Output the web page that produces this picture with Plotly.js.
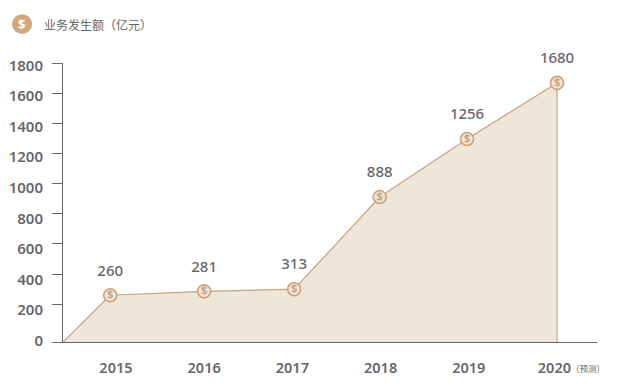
<!DOCTYPE html>
<html><head><meta charset="utf-8">
<script src="https://cdn.plot.ly/plotly-3.0.1.min.js"></script>
<style>html,body{margin:0;padding:0;background:#fff}#c{width:632px;height:388px}</style>
</head><body><div id="c"></div>
<script>
// Point positions (x in years, y on the drawn scale)
const pointX = [2014.935, 2016, 2017.02, 2017.99, 2018.98, 2020];
const pointY = [260, 286, 300, 911, 1296, 1668];
const valueLabels = ['260', '281', '313', '888', '1256', '1680'];
const startX = 2014.4;
const baseY = -50;   // the lowest tick sits below the regular step on the original axis
const yTickMarks = [-50, 200, 400, 600, 800, 1000, 1200, 1400, 1600, 1800];
const yLabelVals = [0, 200, 400, 600, 800, 1000, 1200, 1400, 1600, 1800];
const xTickVals = [2015, 2016, 2017, 2018, 2019, 2019.97];
const xTickText = ['2015', '2016', '2017', '2018', '2019', '2020'];
const unitTitle = '业务发生额（亿元）';
const forecastNote = '（预测）';

const TAN = '#c9a27c', FILL = '#efe6da', TXT = '#66666b', AXIS = '#666666';
const FONT = '"Noto Sans CJK SC","Noto Sans",sans-serif';
const NUM = '"Noto Sans","Open Sans",sans-serif';

const area = {
  x: [startX, ...pointX, pointX[pointX.length - 1]],
  y: [baseY, ...pointY, baseY],
  mode: 'lines', fill: 'toself', fillcolor: FILL,
  line: {color: TAN, width: 1.2}, hoverinfo: 'skip', showlegend: false
};
const coins = {
  x: pointX, y: pointY, mode: 'markers+text',
  marker: {size: 13, color: FILL, line: {color: TAN, width: 1.6}},
  text: pointX.map(() => '$'), textposition: 'middle center',
  textfont: {family: NUM, size: 11, color: TAN, weight: 700},
  hoverinfo: 'skip', showlegend: false
};
const labels = {
  x: pointX, y: pointY, mode: 'markers+text',
  marker: {size: 24, color: 'rgba(0,0,0,0)'},
  text: valueLabels, textposition: 'top center',
  textfont: {family: NUM, size: 15, color: TXT, weight: 500},
  hoverinfo: 'skip', showlegend: false, cliponaxis: false
};
const labelAxisCarrier = {x: [startX], y: [0], yaxis: 'y2', mode: 'markers',
  marker: {size: 1, opacity: 0}, hoverinfo: 'skip', showlegend: false};

const layout = {
  width: 632, height: 388,
  margin: {l: 63, r: 35, t: 63, b: 46},
  paper_bgcolor: '#fff', plot_bgcolor: '#fff',
  showlegend: false,
  xaxis: {
    range: [startX, 2020.453], tickvals: xTickVals, ticktext: xTickText,
    showgrid: false, zeroline: false, showline: true, linecolor: AXIS, linewidth: 1,
    ticks: '', ticklabelstandoff: 13,
    tickfont: {family: NUM, size: 14.5, color: TXT, weight: 600}
  },
  yaxis: {
    range: [baseY, 1800], tickvals: yTickMarks, showticklabels: false,
    showgrid: false, zeroline: false, showline: true, linecolor: AXIS, linewidth: 1,
    ticks: 'outside', ticklen: 10, tickcolor: AXIS, tickwidth: 1
  },
  yaxis2: {
    overlaying: 'y', side: 'left', anchor: 'x',
    range: [-9.8, 1816.4], tickvals: yLabelVals,
    showgrid: false, zeroline: false, showline: false,
    ticks: 'outside', ticklen: 10, tickcolor: 'rgba(0,0,0,0)', ticklabelstandoff: 6,
    tickfont: {family: NUM, size: 15, color: TXT, weight: 600}
  },
  annotations: [
    {xref: 'paper', yref: 'paper', x: -0.04, y: 1.1395, xanchor: 'left', yanchor: 'middle',
     text: unitTitle, showarrow: false, font: {family: FONT, size: 12, color: TXT}},
    {xref: 'x', yref: 'paper', x: 2020.14, y: -0.092, xanchor: 'left', yanchor: 'middle',
     text: forecastNote, showarrow: false, font: {family: FONT, size: 8.5, color: TXT}},
    {xref: 'paper', yref: 'paper', x: -0.0768, y: 1.1395, xanchor: 'center', yanchor: 'middle',
     text: '$', showarrow: false, font: {family: NUM, size: 13, color: '#fff', weight: 700}}
  ],
  shapes: [
    {xref: 'paper', yref: 'paper', layer: 'below', type: 'circle',
     x0: -0.0955, x1: -0.0578, y0: 1.104, y1: 1.175,
     fillcolor: '#d2a97f', line: {color: '#d2a97f', width: 0}}
  ]
};
Plotly.newPlot('c', [area, coins, labels, labelAxisCarrier], layout, {displayModeBar: false, staticPlot: true});
</script></body></html>
